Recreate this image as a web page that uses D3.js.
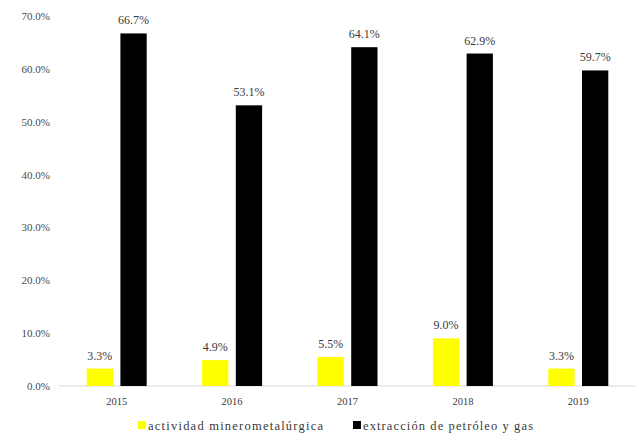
<!DOCTYPE html>
<html>
<head>
<meta charset="utf-8">
<script src="https://cdn.jsdelivr.net/npm/d3@7"></script>
<style>
  html, body { margin: 0; padding: 0; background: #fff; }
  svg text { font-family: "Liberation Serif", "DejaVu Serif", serif; }
</style>
</head>
<body>
<svg id="chart" width="639" height="440"></svg>
<script>
// Participation by year (percent)
const years = ["2015", "2016", "2017", "2018", "2019"];
const mineria = [3.3, 4.9, 5.5, 9.0, 3.3];
const petroleo = [66.7, 53.1, 64.1, 62.9, 59.7];
const seriesNames = ["actividad minerometalúrgica", "extracción de petróleo y gas"];
const seriesColors = ["#ffff00", "#000000"];
const yTicks = [0, 10, 20, 30, 40, 50, 60, 70];

const svg = d3.select("#chart");
const margin = { left: 59, right: 3, top: 16, bottom: 54 };
const W = 639, H = 440;

const x = d3.scaleBand().domain(years).range([margin.left, W - margin.right]).padding(0);
const sub = d3.scaleBand().domain([0, 1]).range([-30, 30]).paddingInner(0.22).paddingOuter(0);
const y = d3.scaleLinear().domain([0, 70]).range([H - margin.bottom, margin.top]);

// y-axis tick labels (no axis line)
const yAxis = d3.axisLeft(y).tickValues(yTicks).tickSize(0).tickPadding(9)
  .tickFormat(d => d.toFixed(1) + "%");
const gy = svg.append("g").attr("transform", `translate(${margin.left},0)`).call(yAxis);
gy.select(".domain").remove();
gy.selectAll("text").attr("fill", "#4a4a4a").style("font-size", "11px");

// baseline
svg.append("line")
  .attr("x1", margin.left).attr("x2", W - margin.right)
  .attr("y1", y(0)).attr("y2", y(0))
  .attr("stroke", "#d9d9d9").attr("stroke-width", 1.2);

// x-axis labels
const xAxis = d3.axisBottom(x).tickSize(0).tickPadding(12);
const gx = svg.append("g").attr("transform", `translate(0,${y(0)})`).call(xAxis);
gx.select(".domain").remove();
gx.selectAll("text").attr("fill", "#3a3a3a").style("font-size", "10.5px");

const data = years.map((yr, i) => ({ yr, vals: [mineria[i], petroleo[i]] }));

const groups = svg.append("g").selectAll("g").data(data).join("g")
  .attr("transform", d => `translate(${x(d.yr) + x.bandwidth() / 2},0)`);

groups.selectAll("rect").data(d => d.vals.map((v, k) => ({ v, k }))).join("rect")
  .attr("x", d => sub(d.k))
  .attr("width", sub.bandwidth())
  .attr("y", d => y(d.v))
  .attr("height", d => y(0) - y(d.v))
  .attr("fill", d => seriesColors[d.k]);

groups.selectAll("text.lbl").data(d => d.vals.map((v, k) => ({ v, k }))).join("text")
  .attr("class", "lbl")
  .attr("x", d => sub(d.k) + sub.bandwidth() / 2)
  .attr("y", d => y(d.v) - 9)
  .attr("text-anchor", "middle")
  .attr("fill", "#3a3a3a")
  .style("font-size", "12px")
  .text(d => d.v.toFixed(1) + "%");

// legend
const legend = svg.append("g").attr("transform", `translate(0,${H - 10})`);
const legX = [138, 353];
const legLen = [175, 170];
seriesNames.forEach((name, i) => {
  legend.append("rect").attr("x", legX[i]).attr("y", -9).attr("width", 8).attr("height", 8)
    .attr("fill", seriesColors[i]);
  legend.append("text").attr("x", legX[i] + 10).attr("y", 0)
    .attr("fill", "#3a3a3a").style("font-size", "12.5px")
    .attr("textLength", legLen[i]).attr("lengthAdjust", "spacing")
    .text(name);
});
</script>
</body>
</html>
